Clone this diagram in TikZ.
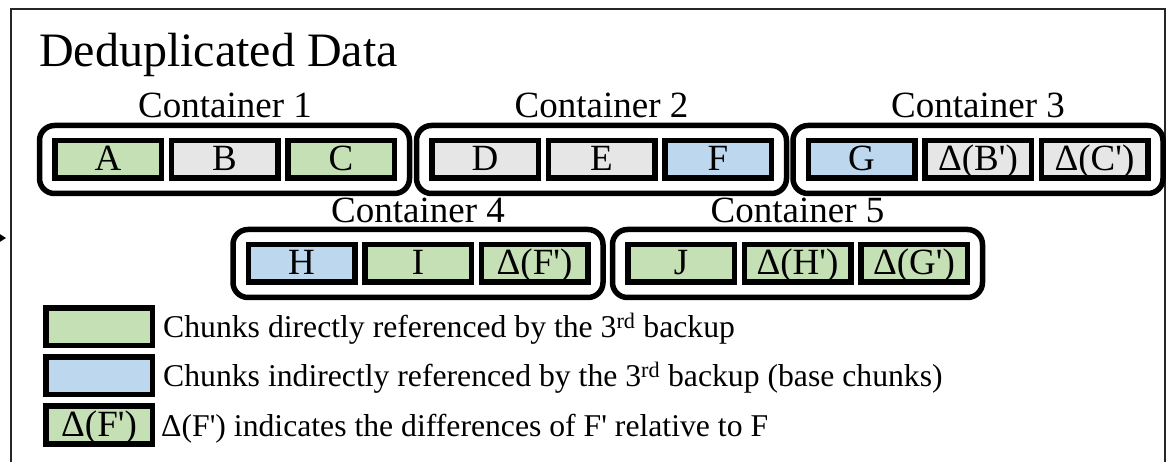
\documentclass[tikz,border=0pt]{standalone}
\usepackage{fontspec}
\setmainfont{Liberation Serif}[Ligatures=TeXOff]
\usetikzlibrary{arrows.meta,fit}
\definecolor{refgreen}{HTML}{C5E0B4}
\definecolor{baseblue}{HTML}{BDD7EE}
\definecolor{plaingray}{HTML}{E7E6E6}
\begin{document}
\begin{tikzpicture}[x=1pt,y=-1pt,
  chunk/.style={draw=black, line width=5.5pt, minimum width=106.5pt,
    minimum height=37.5pt, inner sep=0pt, text height=26pt, text depth=3pt,
    font=\fontsize{37}{40}\selectfont},
  direct/.style={chunk, fill=refgreen},
  based/.style={chunk, fill=baseblue},
  plain/.style={chunk, fill=plaingray},
  container/.style={draw=black, line width=5.5pt, rounded corners=15pt,
    inner sep=12.5pt},
  clabel/.style={anchor=base, inner sep=0pt, font=\fontsize{37}{40}\selectfont},
  ltext/.style={anchor=base west, inner sep=0pt, font=\fontsize{31.7}{35}\selectfont},
  frame/.style={draw=black!85, line width=1.5pt}
]
\useasboundingbox (0,0) rectangle (1176,462);

% outer frame (open at the bottom)
\draw[frame] (11,480) -- (11,9) -- (1165,9) -- (1165,480);
\coordinate (entry) at (6,238);
\draw[line width=1.5pt, -{Triangle[length=9pt,width=11pt]}] (-30,238) -- (entry);

\node[anchor=base west, inner sep=0pt, font=\fontsize{48}{52}\selectfont]
  (title) at (39,67) {Deduplicated Data};

% first row of containers
\node[direct] (A) at (108,159.5) {A};
\node[plain]  (B) at (224.5,159.5) {B};
\node[direct] (C) at (341,159.5) {C};
\node[container, fit=(A)(C)] (c1) {};
\node[clabel] (l1) at (225,118) {Container 1};

\node[plain]  (D) at (485,159.5) {D};
\node[plain]  (E) at (601.5,159.5) {E};
\node[based]  (F) at (718,159.5) {F};
\node[container, fit=(D)(F)] (c2) {};
\node[clabel] (l2) at (601.5,118) {Container 2};

\node[based]  (G) at (861.5,159.5) {G};
\node[plain]  (dB) at (978,159.5) {Δ(B')};
\node[plain]  (dC) at (1094.5,159.5) {Δ(C')};
\node[container, fit=(G)(dC)] (c3) {};
\node[clabel] (l3) at (978,118) {Container 3};

% second row of containers
\node[based]  (H) at (301.5,263.5) {H};
\node[direct] (I) at (418,263.5) {I};
\node[direct] (dF) at (534.5,263.5) {Δ(F')};
\node[container, fit=(H)(dF)] (c4) {};
\node[clabel] (l4) at (418,223) {Container 4};

\node[direct] (J) at (681,263.5) {J};
\node[direct] (dH) at (797.5,263.5) {Δ(H')};
\node[direct] (dG) at (914,263.5) {Δ(G')};
\node[container, fit=(J)(dG)] (c5) {};
\node[clabel] (l5) at (797.5,223) {Container 5};

% legend
\node[direct] (k1) at (99,327) {};
\node[ltext] (t1) at (163,338) {Chunks directly referenced by the 3\textsuperscript{rd} backup};
\node[based] (k2) at (99,376) {};
\node[ltext] (t2) at (163,387) {Chunks indirectly referenced by the 3\textsuperscript{rd} backup (base chunks)};
\node[direct] (k3) at (99,425) {Δ(F')};
\node[ltext] (t3) at (161,436) {Δ(F') indicates the differences of F' relative to F};
\end{tikzpicture}
\end{document}
